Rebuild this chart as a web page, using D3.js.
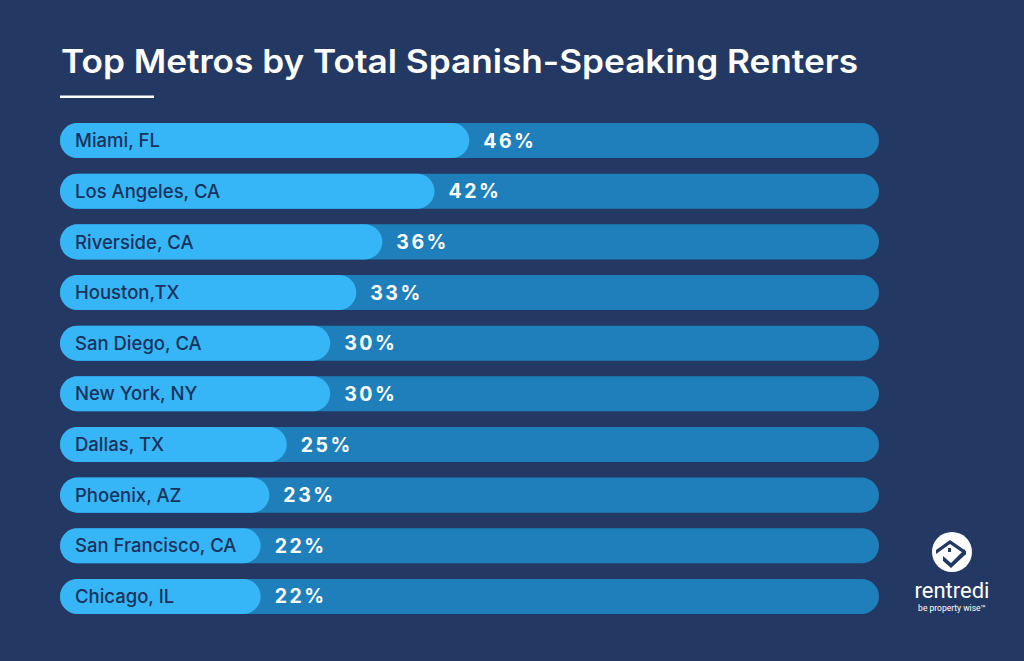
<!DOCTYPE html>
<html><head><meta charset="utf-8">
<script src="https://cdn.jsdelivr.net/npm/d3@7"></script>
<style>html,body{margin:0;padding:0;background:#233963;}svg{display:block}</style>
</head><body>
<script>
const metros = ["Miami, FL","Los Angeles, CA","Riverside, CA","Houston,TX","San Diego, CA","New York, NY","Dallas, TX","Phoenix, AZ","San Francisco, CA","Chicago, IL"];
const shares = [46,42,36,33,30,30,25,23,22,22];
const valueLabels = ["46%","42%","36%","33%","30%","30%","25%","23%","22%","22%"];
const titleText = "Top Metros by Total Spanish-Speaking Renters";

const W = 1024, H = 661;
const svg = d3.select("body").append("svg").attr("width", W).attr("height", H);
svg.append("rect").attr("width", W).attr("height", H).attr("fill", "#233963");

const font = "Inter, 'DejaVu Sans', sans-serif";

svg.append("text").attr("x", 61).attr("y", 73)
  .attr("fill", "#ffffff").attr("font-family", font).attr("font-weight", 600)
  .attr("font-size", 32).attr("textLength", 797).attr("lengthAdjust", "spacingAndGlyphs")
  .text(titleText);
svg.append("rect").attr("x", 60).attr("y", 95.5).attr("width", 94).attr("height", 2.5).attr("fill", "#ffffff");

const left = 60, right = 879;
const y = d3.scaleBand().domain(metros).range([123, 614]).paddingInner(0.308).paddingOuter(0);
const x = d3.scaleLinear().domain([0, 100]).range([69.5, 938.5]);
const bh = y.bandwidth();

const rows = svg.append("g").selectAll("g").data(metros).join("g")
  .attr("transform", d => `translate(0,${y(d)})`);

rows.append("rect").attr("x", left).attr("y", 0).attr("width", right - left).attr("height", bh)
  .attr("rx", bh/2).attr("fill", "#1e7fba");
rows.append("rect").attr("x", left).attr("y", 0).attr("width", (d,i) => x(shares[i]) - left).attr("height", bh)
  .attr("rx", bh/2).attr("fill", "#37b6f7");
rows.append("text").attr("x", 75).attr("y", bh/2).attr("dy", "0.36em")
  .attr("fill", "#17325c").attr("font-family", font).attr("font-weight", 500).attr("font-size", 18.5)
  .text(d => d);
rows.append("text").attr("x", (d,i) => x(shares[i]) + 14).attr("y", bh/2).attr("dy", "0.36em")
  .attr("fill", "#ffffff").attr("font-family", font).attr("font-weight", 700).attr("font-size", 19.5)
  .attr("letter-spacing", 2.5)
  .text((d,i) => valueLabels[i]);

// logo
const lg = svg.append("g").attr("transform", "translate(952,552)");
lg.append("circle").attr("r", 20).attr("fill", "#ffffff");
lg.append("path").attr("d", "M-16,-2 L-2,-12 L14,-1 L14,3 L-2,-8 L-16,2 Z").attr("fill", "#233963");
lg.append("path").attr("d", "M-9,4 L-1,11 L13,-3 L13,3 L-1,16 L-9,9 Z").attr("fill", "#233963");
lg.append("rect").attr("x", -4).attr("y", -4).attr("width", 3).attr("height", 4).attr("fill", "#233963");
svg.append("text").attr("x", 952).attr("y", 598).attr("text-anchor", "middle")
  .attr("fill", "#ffffff").attr("font-family", "Roboto, sans-serif").attr("font-size", 22).text("rentredi");
svg.append("text").attr("x", 952).attr("y", 611).attr("text-anchor", "middle")
  .attr("fill", "#ffffff").attr("font-family", "Roboto, sans-serif").attr("font-size", 8.5).text("be property wise\u2122");
</script>
</body></html>
